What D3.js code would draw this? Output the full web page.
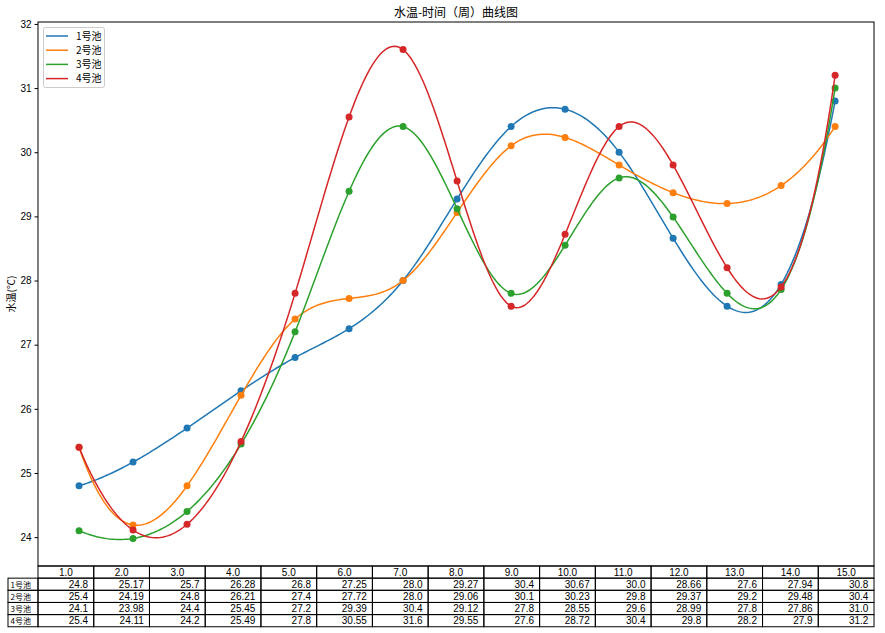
<!DOCTYPE html>
<html><head><meta charset="utf-8">
<script src="https://cdn.jsdelivr.net/npm/d3@7"></script>
<style>
html,body{margin:0;padding:0;background:#fff;}
svg{display:block;font-family:"Noto Sans CJK SC","DejaVu Sans",sans-serif;}
</style></head>
<body><svg id="chart" width="885" height="633"></svg>
<script>
const weeks = [1,2,3,4,5,6,7,8,9,10,11,12,13,14,15];
const seriesNames = ["1号池","2号池","3号池","4号池"];
const pool1 = [24.8,25.17,25.7,26.28,26.8,27.25,28.0,29.27,30.4,30.67,30.0,28.66,27.6,27.94,30.8];
const pool2 = [25.4,24.19,24.8,26.21,27.4,27.72,28.0,29.06,30.1,30.23,29.8,29.37,29.2,29.48,30.4];
const pool3 = [24.1,23.98,24.4,25.45,27.2,29.39,30.4,29.12,27.8,28.55,29.6,28.99,27.8,27.86,31.0];
const pool4 = [25.4,24.11,24.2,25.49,27.8,30.55,31.6,29.55,27.6,28.72,30.4,29.8,28.2,27.9,31.2];
const yTicks = [24,25,26,27,28,29,30,31,32];
const colors = ["#1f77b4","#ff7f0e","#2ca02c","#d62728"];
const title = "水温-时间（周）曲线图";
const yLabel = "水温(℃)";

const allSeries = [pool1,pool2,pool3,pool4];

// not-a-knot cubic spline (like scipy make_interp_spline k=3)
function spline(xs, ys){
  const n = xs.length;
  const h = [];
  for(let i=0;i<n-1;i++) h.push(xs[i+1]-xs[i]);
  const A = Array.from({length:n},()=>new Array(n).fill(0));
  const b = new Array(n).fill(0);
  A[0][0]=h[1]; A[0][1]=-(h[0]+h[1]); A[0][2]=h[0];
  for(let i=1;i<n-1;i++){
    A[i][i-1]=h[i-1]; A[i][i]=2*(h[i-1]+h[i]); A[i][i+1]=h[i];
    b[i]=6*((ys[i+1]-ys[i])/h[i]-(ys[i]-ys[i-1])/h[i-1]);
  }
  A[n-1][n-3]=h[n-2]; A[n-1][n-2]=-(h[n-3]+h[n-2]); A[n-1][n-1]=h[n-3];
  for(let c=0;c<n;c++){
    let p=c;
    for(let r=c+1;r<n;r++) if(Math.abs(A[r][c])>Math.abs(A[p][c])) p=r;
    [A[c],A[p]]=[A[p],A[c]]; [b[c],b[p]]=[b[p],b[c]];
    for(let r=c+1;r<n;r++){
      const f=A[r][c]/A[c][c];
      if(f===0) continue;
      for(let k=c;k<n;k++) A[r][k]-=f*A[c][k];
      b[r]-=f*b[c];
    }
  }
  const M=new Array(n).fill(0);
  for(let r=n-1;r>=0;r--){
    let s=b[r];
    for(let k=r+1;k<n;k++) s-=A[r][k]*M[k];
    M[r]=s/A[r][r];
  }
  return function(x){
    let i=0;
    while(i<n-2 && x>xs[i+1]) i++;
    const hi=h[i], a=xs[i+1]-x, t=x-xs[i];
    return M[i]*a*a*a/(6*hi)+M[i+1]*t*t*t/(6*hi)+(ys[i]/hi-M[i]*hi/6)*a+(ys[i+1]/hi-M[i+1]*hi/6)*t;
  };
}

const svg = d3.select("#chart");
const L=38, R=874, T=22, B=566;
const x = d3.scaleLinear().domain([0.24,15.72]).range([L,R]);
const y = d3.scaleLinear().domain([23.55,32.03]).range([B,T]);

svg.append("rect").attr("x",L).attr("y",T).attr("width",R-L).attr("height",B-T)
  .attr("fill","none").attr("stroke","#000").attr("stroke-width",1);

const yAxis = d3.axisLeft(y).tickValues(yTicks).tickSize(3.5).tickPadding(3).tickFormat(d3.format("d"));
const gy = svg.append("g").attr("transform",`translate(${L},0)`).call(yAxis);
gy.select(".domain").remove();
gy.selectAll("text").attr("font-size",10).attr("fill","#000").style("font-family","'Liberation Sans',sans-serif");
gy.selectAll("line").attr("stroke","#000");

svg.append("text").attr("x",(L+R)/2).attr("y",17).attr("text-anchor","middle")
  .attr("font-size",12).attr("fill","#000").text(title);
svg.append("text").attr("transform",`translate(15,${(T+B)/2}) rotate(-90)`).attr("text-anchor","middle")
  .attr("font-size",10).attr("fill","#000").text(yLabel);

const N=300;
const xsSmooth = d3.range(N).map(i=>weeks[0]+(weeks[weeks.length-1]-weeks[0])*i/(N-1));
const line = d3.line().x(d=>x(d[0])).y(d=>y(d[1]));
allSeries.forEach((vals,si)=>{
  const f = spline(weeks, vals);
  const pts = xsSmooth.map(xx=>[xx,f(xx)]);
  svg.append("path").datum(pts).attr("d",line).attr("fill","none")
    .attr("stroke",colors[si]).attr("stroke-width",1.5);
  svg.append("g").selectAll("circle").data(vals).join("circle")
    .attr("cx",(d,i)=>x(weeks[i])).attr("cy",d=>y(d)).attr("r",3.5).attr("fill",colors[si]);
});

const lg = svg.append("g");
lg.append("rect").attr("x",43.5).attr("y",27.5).attr("width",61).attr("height",60).attr("rx",2)
  .attr("fill","#fff").attr("fill-opacity",0.8).attr("stroke","#ccc");
seriesNames.forEach((nm,i)=>{
  const yy = 36+i*14.2;
  lg.append("line").attr("x1",46).attr("x2",68).attr("y1",yy).attr("y2",yy)
    .attr("stroke",colors[i]).attr("stroke-width",1.5);
  lg.append("text").attr("x",76).attr("y",yy+3.5).attr("font-size",10).attr("fill","#000").text(nm);
});

const colW = (R-L)/weeks.length;
const rowH = 12.15;
const labW = 30, labX = L-labW;
const fmt = v => Number.isInteger(v) ? v.toFixed(1) : String(v);
const numFont = "'Liberation Sans',sans-serif";
const tb = svg.append("g").attr("fill","#000");
weeks.forEach((w,j)=>{
  const cx = L+j*colW;
  tb.append("rect").attr("x",cx).attr("y",B).attr("width",colW).attr("height",rowH)
    .attr("fill","none").attr("stroke","#000").attr("stroke-width",1);
  tb.append("text").attr("x",cx+colW/2).attr("y",B+rowH-2.5).attr("text-anchor","middle")
    .attr("font-size",10).style("font-family",numFont).text(fmt(w));
});
allSeries.forEach((vals,si)=>{
  const ry = B+rowH*(si+1);
  tb.append("rect").attr("x",labX).attr("y",ry).attr("width",labW).attr("height",rowH)
    .attr("fill","none").attr("stroke","#000").attr("stroke-width",1);
  tb.append("text").attr("x",labX+2.5).attr("y",ry+rowH-2.6).attr("font-size",8)
    .text(seriesNames[si]);
  vals.forEach((v,j)=>{
    const cx = L+j*colW;
    tb.append("rect").attr("x",cx).attr("y",ry).attr("width",colW).attr("height",rowH)
      .attr("fill","none").attr("stroke","#000").attr("stroke-width",1);
    tb.append("text").attr("x",cx+colW*0.9).attr("y",ry+rowH-2.5).attr("text-anchor","end")
      .attr("font-size",10).style("font-family",numFont).text(fmt(v));
  });
});
</script></body></html>
